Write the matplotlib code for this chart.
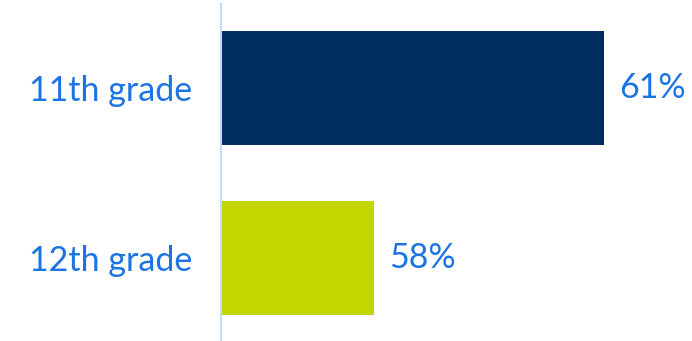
import matplotlib
matplotlib.use("Agg")
import matplotlib.pyplot as plt

categories = ["11th grade", "12th grade"]
values = [61, 58]
labels = ["61%", "58%"]
colors = ["#002d5f", "#c4d600"]

plt.rcParams['font.family'] = ['Lato', 'DejaVu Sans']
text_color = "#1b74e4"

fig = plt.figure(figsize=(6.92, 3.41), dpi=100)
ax = fig.add_axes([221/692, 0, 1 - 221/692, 1 - 4/341])

y = list(range(len(categories)))
ax.barh(y, values, height=0.67, color=colors, left=0)
ax.set_xlim(56, 62.15)
ax.set_ylim(1.488, -0.494)

for yi, v, lab in zip(y, values, labels):
    ax.annotate(lab, (v, yi), xytext=(11, 0), textcoords="offset points",
                va="center", ha="left", fontsize=24.5, color=text_color)

ax.set_yticks(y)
ax.set_yticklabels(categories, fontsize=24.5, color=text_color)
ax.tick_params(axis="y", length=0, pad=21)
ax.set_xticks([])
for s in ["top", "right", "bottom"]:
    ax.spines[s].set_visible(False)
ax.spines["left"].set_color("#c0dcf8")
ax.spines["left"].set_linewidth(1.5)

fig.savefig("out.png", dpi=100)
